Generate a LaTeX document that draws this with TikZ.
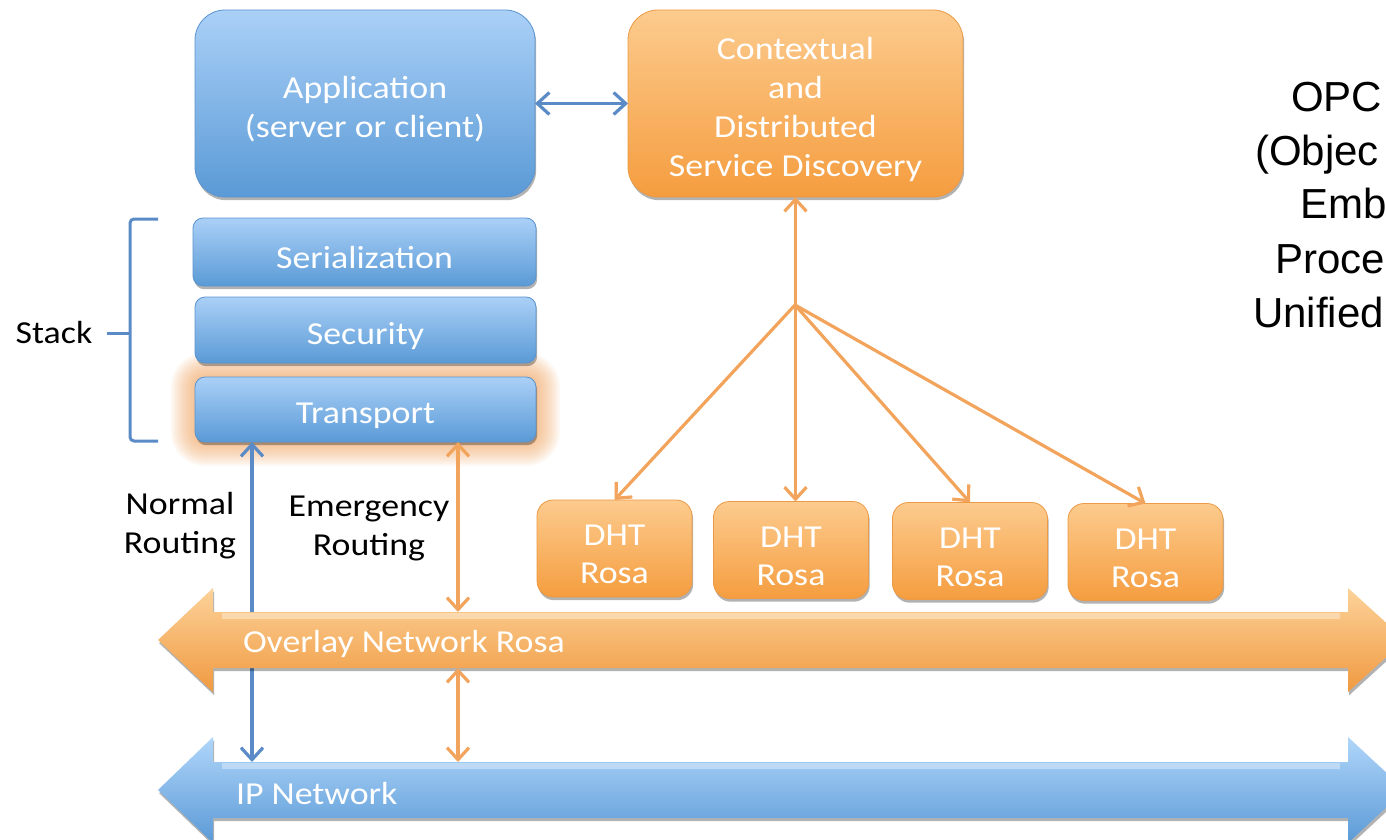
\documentclass[tikz,border=0pt]{standalone}
\usepackage{fontspec}
\setmainfont{Carlito}[FakeStretch=1.12]
\newfontfamily\opcfont{Liberation Sans}
\usetikzlibrary{shadows,arrows.meta,calc}
\definecolor{bluetop}{HTML}{AAD0F7}
\definecolor{bluebot}{HTML}{5A9AD6}
\definecolor{blueedge}{HTML}{5B93CF}
\definecolor{orgtop}{HTML}{FCCB8E}
\definecolor{orgbot}{HTML}{F59D3F}
\definecolor{orgedge}{HTML}{EC9A45}
\definecolor{bline}{HTML}{5A8BC6}
\definecolor{oline}{HTML}{F3A45C}
\definecolor{glow}{HTML}{EE9A50}
\definecolor{ovltop}{HTML}{FCD29A}
\definecolor{ovlmid}{HTML}{F9B466}
\definecolor{ovlbot}{HTML}{F09A40}
\definecolor{iptop}{HTML}{B0D6FA}
\definecolor{ipmid}{HTML}{80B6EC}
\definecolor{ipbot}{HTML}{5B9AD6}
\begin{document}
\begin{tikzpicture}[x=0.5pt,y=-0.5pt,
  every node/.style={inner sep=0pt, outer sep=0pt},
  >={Straight Barb[length=6pt,width=11pt]},
  txt/.style={font=\fontsize{16}{19.5}\selectfont, align=center},
  boxtext/.style={txt, text=white, yshift=-3pt},
  boxshadow/.style={drop shadow={shadow xshift=0.6pt, shadow yshift=-1.6pt, opacity=0.3, fill=black}},
  bluebox/.style={draw=blueedge, line width=0.4pt, top color=bluetop, bottom color=bluebot, boxshadow},
  orangebox/.style={draw=orgedge, line width=0.4pt, top color=orgtop, bottom color=orgbot, boxshadow},
  layer/.style={minimum width=170.5pt, rounded corners=5pt},
  dht/.style={minimum width=77.5pt, minimum height=48.5pt, rounded corners=8pt},
  blink/.style={draw=bline, line width=1.6pt},
  olink/.style={draw=oline, line width=1.6pt},
  shine/.style={white, opacity=0.35},
  opc/.style={font=\opcfont\fontsize{21}{26}\selectfont, anchor=base west}
]
\useasboundingbox (0,0) rectangle (1386,840);
\clip (0,0) rectangle (1386,840);

% soft orange halo behind the transport layer
\foreach \e in {2,4,...,24}{
  \pgfmathsetmacro\rc{5+0.5*\e}
  \fill[glow, opacity=0.065, rounded corners=\rc pt] (195-\e,377-\e) rectangle (536+\e,442+\e);
}

% application and discovery
\node[bluebox, minimum width=170pt, minimum height=93.5pt, rounded corners=15pt] (app) at (365,103.5) {};
\node[boxtext] (appT) at (app) {Application\\(server or client)};
\node[orangebox, minimum width=167.5pt, minimum height=93.5pt, rounded corners=15pt] (ctx) at (795.5,103.5) {};
\node[boxtext] (ctxT) at (ctx) {Contextual\\and\\Distributed\\Service Discovery};

% protocol stack
\node[bluebox, layer, minimum width=171.5pt, minimum height=34pt] (ser) at (364.5,252) {};
\node[boxtext] (serT) at (ser) {Serialization};
\node[bluebox, layer, minimum height=33pt] (sec) at (365.5,330) {};
\node[boxtext] (secT) at (sec) {Security};
\node[bluebox, layer, minimum height=32.5pt] (tr) at (365.5,409.5) {};
\node[boxtext] (trT) at (tr) {Transport};

\node[txt] (stack) at (54,333) {Stack};
\draw[bline, line width=1.5pt, rounded corners=2pt] (158,219) -- (130,219) -- (130,441) -- (158,441);
\draw[bline, line width=1.5pt] (130,333) -- (107,333);

% DHT nodes
\foreach \n/\x/\y in {d1/614.5/548.5, d2/791/550, d3/970/551, d4/1145.5/552}{
  \node[orangebox, dht] (\n) at (\x,\y) {};
  \node[boxtext, font=\fontsize{16}{19}\selectfont] (\n T) at (\n) {DHT\\Rosa};
}

% routing labels
\node[txt] (normal) at (180,526) {Normal\\Routing};
\node[txt] (emerg) at (369,528) {Emergency\\Routing};

% attachment points on the network arrows
\coordinate (ipA) at (252,762);
\coordinate (ovlA) at (458,612);
\coordinate (ovlB) at (458,668);
\coordinate (ipB) at (458,762);
\coordinate (hub) at (795,305);

% normal routing goes straight down to the IP network
\draw[blink,<->] (ipA |- tr.south) -- (ipA);

% overlay network arrow
\shade[top color=ovltop, middle color=ovlmid, bottom color=ovlbot, boxshadow]
  (158,640) -- (213,588) -- (213,612) -- (1348,612) -- (1348,588) -- (1405,640)
  -- (1348,692) -- (1348,668) -- (213,668) -- (213,692) -- cycle;
\fill[shine] (222,613) rectangle (1340,619);
\node[txt, text=white, anchor=west] (ovl) at (243,644) {Overlay Network Rosa};

% IP network arrow
\shade[top color=iptop, middle color=ipmid, bottom color=ipbot, boxshadow]
  (158,790) -- (213,737) -- (213,762) -- (1348,762) -- (1348,737) -- (1405,790)
  -- (1348,843) -- (1348,818) -- (213,818) -- (213,843) -- cycle;
\fill[shine] (222,763) rectangle (1340,769);
\node[txt, text=white, anchor=west] (ipn) at (236,793) {IP Network};

% connectors
\draw[blink,<->] (app.east) -- (ctx.west);
\draw[olink,<->] (ovlA |- tr.south) -- (ovlA);
\draw[olink,<->] (ovlB) -- (ipB);
\draw[olink,<->] (ctx.south) -- (ctx.south |- d2.north);
\draw[olink,->] (hub) -- (d1.north);
\draw[olink,->] (hub) -- (d3.north);
\draw[olink,->] (hub) -- (d4.north);

% side caption
\node[opc] (opc1) at (1291,112) {OPC};
\node[opc] (opc2) at (1255,165) {(Objec};
\node[opc] (opc3) at (1300,218) {Emb};
\node[opc] (opc4) at (1275,273) {Proce};
\node[opc] (opc5) at (1253,327) {Unified};
\end{tikzpicture}
\end{document}
